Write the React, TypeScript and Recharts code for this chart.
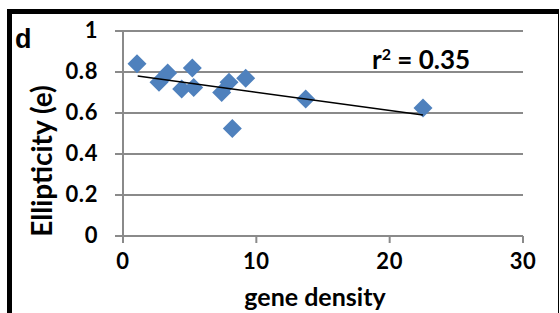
import { ScatterChart, Scatter, XAxis, YAxis, CartesianGrid } from "recharts";

const geneDensity = [1.05, 2.7, 3.35, 4.4, 5.2, 5.3, 7.4, 7.95, 8.2, 9.2, 13.7, 22.5];
const ellipticity = [0.84, 0.75, 0.795, 0.717, 0.82, 0.725, 0.7, 0.75, 0.525, 0.77, 0.668, 0.624];
const trendX = [1.1, 22.5];
const trendY = [0.78, 0.59];
const xTicks = [0, 10, 20, 30];
const yTicks = [0, 0.2, 0.4, 0.6, 0.8, 1];

const points = geneDensity.map((x, i) => ({ x, y: ellipticity[i] }));
const trend = trendX.map((x, i) => ({ x, y: trendY[i] }));

const FONT = "Lato, 'Open Sans', sans-serif";
const GRID = "#8a8a8a";

const Diamond = (props: any) => {
  const { cx, cy } = props;
  const r = 9.5;
  return (
    <polygon
      points={`${cx},${cy - r} ${cx + r},${cy} ${cx},${cy + r} ${cx - r},${cy}`}
      fill="#4F81BD"
    />
  );
};

const YTick = (props: any) => {
  const { x, y, payload } = props;
  return (
    <text x={x} y={y} dy={7} textAnchor="end" fill="#000" fontSize={22} fontWeight={700} fontFamily={FONT} letterSpacing={0.6}>
      {payload.value}
    </text>
  );
};

const XTick = (props: any) => {
  const { x, y, payload } = props;
  return (
    <text x={x} y={y} dy={16} textAnchor="middle" fill="#000" fontSize={22} fontWeight={700} fontFamily={FONT} letterSpacing={0.6}>
      {payload.value}
    </text>
  );
};

const titleStyle: React.CSSProperties = {
  position: "absolute",
  fontFamily: FONT,
  fontWeight: 700,
  whiteSpace: "nowrap",
  color: "#000",
};

export default function App() {
  return (
    <div style={{ position: "fixed", left: 0, top: 0, width: 560, height: 313, background: "#fff", overflow: "hidden" }}>
      <div
        style={{
          position: "absolute",
          left: 7,
          top: 9,
          width: 560 - 7 - 5 - 2,
          height: 320,
          borderLeft: "5px solid #000",
          borderTop: "5px solid #000",
          borderRight: "1px solid #000",
        }}
      />
      <ScatterChart width={560} height={313} margin={{ top: 31, right: 37, bottom: 47, left: 63 }}>
        <CartesianGrid horizontal vertical={false} stroke={GRID} strokeWidth={2} />
        <XAxis
          type="number"
          dataKey="x"
          domain={[0, 30]}
          ticks={xTicks}
          height={30}
          axisLine={{ stroke: GRID, strokeWidth: 2 }}
          tickLine={{ stroke: GRID, strokeWidth: 2 }}
          tickSize={7}
          tickMargin={10}
          tick={XTick}
        />
        <YAxis
          type="number"
          dataKey="y"
          domain={[0, 1]}
          ticks={yTicks}
          width={60}
          axisLine={{ stroke: GRID, strokeWidth: 2 }}
          tickLine={{ stroke: GRID, strokeWidth: 2 }}
          tickSize={8}
          tickMargin={17}
          tick={YTick}
        />
        <Scatter data={points} shape={Diamond} isAnimationActive={false} />
        <Scatter data={trend} line={{ stroke: "#000", strokeWidth: 1.5 }} shape={() => <g />} isAnimationActive={false} />
      </ScatterChart>
      <div
        style={{
          ...titleStyle,
          left: 41,
          top: 161,
          fontSize: 28,
          lineHeight: "28px",
          transform: "translate(-50%, -50%) rotate(-90deg)",
        }}
      >
        Ellipticity (e)
      </div>
      <div
        style={{
          ...titleStyle,
          left: 315,
          top: 284,
          fontSize: 25,
          lineHeight: "25px",
          transform: "translateX(-50%)",
        }}
      >
        gene density
      </div>
      <div style={{ position: "absolute", left: 15, top: 24, fontFamily: "'Liberation Sans', Arial, sans-serif", fontWeight: 700, fontSize: 27, lineHeight: "30px" }}>
        d
      </div>
      <div style={{ ...titleStyle, left: 372, top: 46, fontSize: 26, lineHeight: "26px" }}>
        r<sup style={{ fontSize: 16, verticalAlign: "9px", lineHeight: 0 }}>2</sup> = 0.35
      </div>
    </div>
  );
}
